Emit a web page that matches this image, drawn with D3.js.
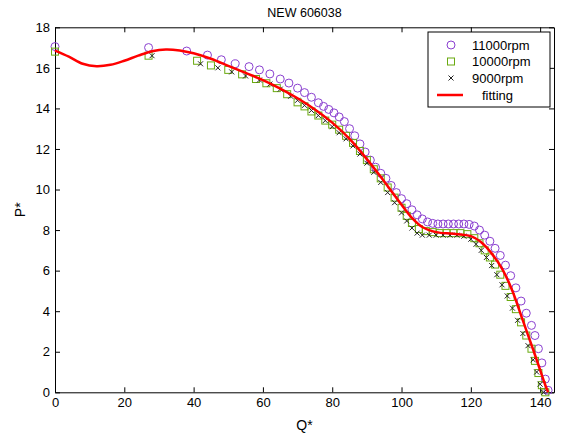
<!DOCTYPE html>
<html><head><meta charset="utf-8">
<script src="https://cdn.jsdelivr.net/npm/d3@7"></script>
<style>body{margin:0;background:#fff}svg{display:block}text{font-family:"Liberation Sans",Arial,sans-serif}</style>
</head><body>
<script>
const title = "NEW 606038";
const xTicks = [0,20,40,60,80,100,120,140];
const yTicks = [0,2,4,6,8,10,12,14,16,18];
const seriesNames = ["11000rpm","10000rpm","9000rpm","fitting"];

const q11000 = [0,27,38,44,48,52,56,59,62,65,67.5,70,72,74,76,77.5,79,80.5,82,83.5,85,86.5,88,89.5,91,92.5,94,95.5,97,98.5,100,101.5,103,104.5,106,107.5,109,110.5,112,113.5,115,116.5,118,119.5,121,122.5,124,125.5,127,128.5,130,131.5,133,134.5,136,137.5,138.5,139.5,140.5,141.5,142.3];
const p11000 = [17.05,17.0,16.83,16.63,16.4,16.2,16.06,15.9,15.7,15.45,15.25,15.0,14.78,14.55,14.28,14.1,13.95,13.78,13.58,13.35,13.0,12.65,12.25,11.85,11.45,11.1,10.8,10.55,10.2,9.85,9.55,9.3,9.0,8.75,8.55,8.4,8.33,8.3,8.3,8.3,8.3,8.3,8.3,8.28,8.2,8.0,7.75,7.45,7.1,6.75,6.27,5.75,5.15,4.5,3.9,3.3,2.8,2.15,1.45,0.65,0.1];

const q10000 = [0,27,41,45,50,54,58,61,64,67,70,72,74,76,78,80,82,84,86,88,90,92,94,96,98,100,101.5,103,105,107,109,111,113,115,117,119,121,122.5,124,125.5,127,128.5,130,131.5,133,134.5,136,137.5,138.5,139.5,140.5,141.5];
const p10000 = [16.8,16.6,16.35,16.12,15.9,15.68,15.45,15.24,15.0,14.7,14.3,14.1,13.85,13.65,13.4,13.2,12.95,12.65,12.3,11.9,11.45,11.0,10.55,10.1,9.6,9.1,8.7,8.35,8.05,7.95,7.9,7.85,7.85,7.85,7.85,7.8,7.6,7.35,7.0,6.65,6.3,5.8,5.25,4.7,4.1,3.45,2.8,2.15,1.55,0.95,0.35,0.0];

const q9000 = [28,42,47,51,55,59,62,65,68,70,72,74,76,78,80,82,84,86,88,90,92,94,96,98,100,101.5,103,104.5,106,108,110,112,114,116,118,120,121.5,123,124.5,126,127.5,129,130.5,132,133.5,135,136.5,138,139,140,141];
const p9000 = [16.6,16.2,16.0,15.8,15.6,15.4,15.2,14.95,14.6,14.4,14.15,13.9,13.65,13.4,13.1,12.8,12.5,12.15,11.75,11.3,10.85,10.35,9.85,9.35,8.85,8.45,8.1,7.85,7.75,7.75,7.75,7.75,7.75,7.75,7.7,7.55,7.3,7.0,6.65,6.25,5.8,5.3,4.75,4.15,3.55,2.9,2.3,1.6,1.0,0.4,0.0];

const qFit = [0,4,8,12,16,20,24,28,32,36,40,45,50,55,60,65,70,75,80,85,90,95,100,103,106,110,115,120,123,126,129,132,135,138,140,141.5,142.3];
const pFit = [16.85,16.55,16.2,16.08,16.15,16.35,16.6,16.82,16.91,16.86,16.72,16.45,16.1,15.75,15.4,14.98,14.5,13.95,13.3,12.5,11.5,10.4,9.25,8.6,8.15,7.9,7.82,7.7,7.4,6.85,6.1,5.0,3.55,2.1,1.1,0.35,0];

const W = 563, H = 437;
const m = {l:55, r:563-554, t:27.3, b:437-392.3};
const svg = d3.select("body").append("svg").attr("width",W).attr("height",H);
const x = d3.scaleLinear().domain([0,144]).range([m.l, W-m.r]);
const y = d3.scaleLinear().domain([0,18]).range([H-m.b, m.t]);

const fs = 13;
const gx = svg.append("g").attr("transform",`translate(0,${y(0)})`)
  .call(d3.axisBottom(x).tickValues(xTicks).tickSizeInner(-5).tickSizeOuter(0).tickPadding(5));
const gxTop = svg.append("g").attr("transform",`translate(0,${y(18)})`)
  .call(d3.axisTop(x).tickValues(xTicks).tickSizeInner(-5).tickSizeOuter(0).tickFormat(""));
const gy = svg.append("g").attr("transform",`translate(${x(0)},0)`)
  .call(d3.axisLeft(y).tickValues(yTicks).tickSizeInner(-5).tickSizeOuter(0).tickPadding(5));
const gyR = svg.append("g").attr("transform",`translate(${x(144)},0)`)
  .call(d3.axisRight(y).tickValues(yTicks).tickSizeInner(-5).tickSizeOuter(0).tickFormat(""));
[gx,gxTop,gy,gyR].forEach(g=>{
  g.selectAll("path.domain").attr("stroke","#000").attr("stroke-width",1);
  g.selectAll("line").attr("stroke","#000");
  g.selectAll("text").attr("font-size",fs).attr("fill","#000").attr("font-family","'Liberation Sans',Arial,sans-serif");
});

svg.append("text").attr("x",(x(0)+x(144))/2).attr("y",17).attr("text-anchor","middle")
  .attr("font-size",12.5).text(title);
svg.append("text").attr("x",(x(0)+x(144))/2).attr("y",430).attr("text-anchor","middle")
  .attr("font-size",14).text("Q*");
svg.append("text").attr("transform",`translate(25,${(y(0)+y(18))/2}) rotate(-90)`).attr("text-anchor","middle")
  .attr("font-size",14).text("P*");

const purple = "#8a3fd0", green = "#6aaa10";

const marks = svg.append("g");
marks.selectAll("circle.c11").data(q11000.map((q,i)=>[q,p11000[i]])).join("circle")
  .attr("cx",d=>x(d[0])).attr("cy",d=>y(d[1])).attr("r",4)
  .attr("fill","none").attr("stroke",purple).attr("stroke-width",1);
marks.selectAll("rect.s10").data(q10000.map((q,i)=>[q,p10000[i]])).join("rect")
  .attr("x",d=>x(d[0])-3.5).attr("y",d=>y(d[1])-3.5).attr("width",7).attr("height",7)
  .attr("fill","none").attr("stroke",green).attr("stroke-width",1);
const xm = marks.selectAll("g.x9").data(q9000.map((q,i)=>[q,p9000[i]])).join("g")
  .attr("transform",d=>`translate(${x(d[0])},${y(d[1])})`);
xm.append("path").attr("d","M-2.5,-2.5L2.5,2.5M-2.5,2.5L2.5,-2.5").attr("stroke","#222").attr("stroke-width",1);

const line = d3.line().x((d,i)=>x(qFit[i])).y((d,i)=>y(pFit[i])).curve(d3.curveCatmullRom);
svg.append("path").attr("d",line(pFit)).attr("fill","none").attr("stroke","#ff0000").attr("stroke-width",2.5);

const lg = svg.append("g");
lg.append("rect").attr("x",428).attr("y",32).attr("width",122).attr("height",75)
  .attr("fill","#fff").attr("stroke","#000").attr("stroke-width",1);
const ly = [45,61.5,78,95];
const mx = 451;
lg.append("circle").attr("cx",mx).attr("cy",ly[0]).attr("r",4).attr("fill","none").attr("stroke",purple);
lg.append("rect").attr("x",mx-3.5).attr("y",ly[1]-3.5).attr("width",7).attr("height",7).attr("fill","none").attr("stroke",green);
lg.append("path").attr("d",`M${mx-2.5},${ly[2]-2.5}L${mx+2.5},${ly[2]+2.5}M${mx-2.5},${ly[2]+2.5}L${mx+2.5},${ly[2]-2.5}`).attr("stroke","#222");
lg.append("line").attr("x1",437).attr("x2",463).attr("y1",ly[3]).attr("y2",ly[3]).attr("stroke","#ff0000").attr("stroke-width",2.5);
seriesNames.forEach((n,i)=>{
  lg.append("text").attr("x", i<3 ? 472 : 482).attr("y",ly[i]+4.5).attr("font-size",13).text(n);
});
</script>
</body></html>
